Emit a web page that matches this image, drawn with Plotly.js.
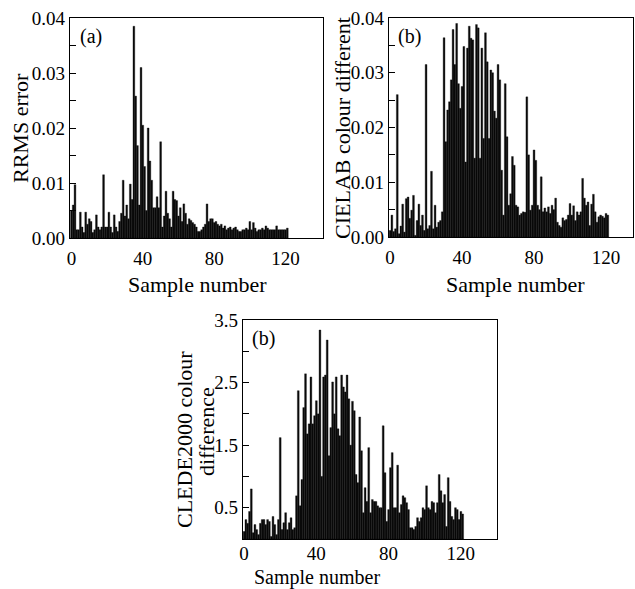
<!DOCTYPE html>
<html>
<head>
<meta charset="utf-8">
<script src="https://cdn.plot.ly/plotly-3.0.1.min.js"></script>
<style>html,body{margin:0;padding:0;background:#fff;}#chart{width:635px;height:589px;}</style>
</head>
<body>
<div id="chart"></div>
<script>
// ---- data ----
const sampleNumber = Array.from({length: 122}, (_, i) => i);

const rrmsError = [
 0.005,0.006,0.0097,0.0015,0.0015,0.0047,0.002,0.001,0.0047,0.0025,
 0.0035,0.003,0.001,0.0015,0.0042,0.002,0.0015,0.002,0.0115,0.002,
 0.002,0.0047,0.002,0.001,0.0042,0.002,0.0012,0.003,0.0045,0.0105,
 0.004,0.006,0.0035,0.0098,0.007,0.0385,0.0258,0.0168,0.006,0.031,
 0.0205,0.013,0.005,0.020,0.014,0.0105,0.0055,0.0055,0.0075,0.0055,
 0.0175,0.002,0.004,0.0085,0.0045,0.0035,0.002,0.0085,0.007,0.0068,
 0.004,0.0055,0.003,0.0062,0.0045,0.0025,0.0035,0.0032,0.0028,0.0025,
 0.002,0.0012,0.0012,0.0015,0.002,0.0025,0.0062,0.003,0.0035,0.0035,
 0.0028,0.003,0.0025,0.0022,0.0025,0.0018,0.0022,0.0015,0.0018,0.002,
 0.0015,0.0018,0.002,0.0015,0.0012,0.0012,0.0015,0.0015,0.0018,0.0015,
 0.003,0.0015,0.0028,0.0018,0.0012,0.0015,0.0015,0.0018,0.0015,0.0022,
 0.0018,0.0015,0.0015,0.0015,0.0015,0.0022,0.0015,0.0015,0.0015,0.0015,
 0.0015,0.0018
];

const cielabDifference = [
 0.0012,0.004,0.001,0.0015,0.026,0.0006,0.002,0.006,0.0009,0.007,
 0.0073,0.0034,0.0049,0.0076,0.0003,0.003,0.006,0.0021,0.004,0.0012,
 0.0315,0.0015,0.0021,0.012,0.0015,0.0058,0.0018,0.0027,0.003,0.0046,
 0.0364,0.0174,0.0232,0.0247,0.0287,0.0379,0.0315,0.039,0.028,0.0235,
 0.0275,0.0348,0.0137,0.0345,0.0385,0.0363,0.036,0.0144,0.0388,0.0382,
 0.0144,0.0345,0.018,0.0373,0.032,0.018,0.0305,0.03,0.023,0.0217,
 0.0315,0.0287,0.0122,0.004,0.028,0.0183,0.0058,0.0079,0.0147,0.0131,
 0.0058,0.0055,0.004,0.0043,0.0046,0.0045,0.0256,0.015,0.0049,0.0058,
 0.0159,0.014,0.0058,0.005,0.011,0.0046,0.0053,0.0046,0.0055,0.0043,
 0.0058,0.005,0.0071,0.0027,0.0021,0.0018,0.0035,0.003,0.0032,0.004,
 0.0061,0.004,0.0057,0.003,0.0046,0.004,0.0046,0.0107,0.0071,0.0058,
 0.0064,0.0021,0.006,0.0078,0.0046,0.0027,0.0037,0.004,0.0038,0.0035,
 0.0043,0.004
];

const ciede2000Difference = [
 0.12,0.31,0.25,0.44,0.8,0.1,0.23,0.15,0.07,0.25,
 0.31,0.31,0.23,0.31,0.28,0.04,0.36,0.23,0.07,0.31,
 1.62,0.15,0.26,0.42,0.15,0.26,0.34,0.15,0.18,0.69,
 2.37,0.53,0.95,2.1,2.64,1.68,1.84,2.59,1.84,1.97,
 2.21,2.0,3.34,1.0,2.59,2.62,3.18,1.33,1.78,2.51,
 2.0,2.59,1.76,1.65,2.62,2.43,2.35,2.62,2.24,1.5,
 2.2,2.05,1.03,0.9,1.95,1.41,0.42,0.82,0.6,1.46,
 0.42,0.63,0.6,0.6,0.53,0.5,0.5,1.81,1.06,0.28,
 0.47,1.14,1.38,0.5,0.5,1.18,0.42,0.55,0.69,0.66,
 0.58,0.47,0.18,0.18,0.15,0.2,0.34,0.28,0.34,0.5,
 0.47,0.85,0.5,0.47,0.6,0.58,0.42,0.58,1.03,0.77,
 0.58,0.71,0.2,0.98,0.6,0.36,0.31,0.5,0.47,0.31,
 0.44,0.4
];

const xTickVals = [0, 40, 80, 120];
const xTickText = ['0', '40', '80', '120'];
const yTickValsSmall = [0, 0.005, 0.01, 0.015, 0.02, 0.025, 0.03, 0.035, 0.04];
const yTickTextSmall = ['0.00', '', '0.01', '', '0.02', '', '0.03', '', '0.04'];
const yTickValsDE = [0.5, 1, 1.5, 2, 2.5, 3, 3.5];
const yTickTextDE = ['0.5', '', '1.5', '', '2.5', '', '3.5'];

const xTitle = 'Sample number';
const yTitleA = 'RRMS error';
const yTitleB = 'CIELAB colour different';
const yTitleC1 = 'CLEDE2000 colour';
const yTitleC2 = 'difference';
const panelLabels = ['(a)', '(b)', '(b)'];

// ---- layout ----
const W = 635, H = 589;
const FONT = 'Liberation Serif, Times New Roman, serif';
const xd = (a, b) => [a / W, b / W];
const yd = (top, bottom) => [1 - bottom / H, 1 - top / H];
const px = v => v / W;
const py = v => 1 - v / H;

const barStyle = {color: '#0a0a0a', line: {width: 0.35, color: '#0a0a0a'}};
const traces = [
  {type: 'bar', x: sampleNumber, y: rrmsError, xaxis: 'x', yaxis: 'y', marker: barStyle, hoverinfo: 'x+y'},
  {type: 'bar', x: sampleNumber, y: cielabDifference, xaxis: 'x2', yaxis: 'y2', marker: barStyle, hoverinfo: 'x+y'},
  {type: 'bar', x: sampleNumber, y: ciede2000Difference, xaxis: 'x3', yaxis: 'y3', marker: barStyle, hoverinfo: 'x+y'}
];

function xAxis(domain, anchor, range, standoff) {
  return {
    domain: domain, anchor: anchor, range: range,
    tickvals: xTickVals, ticktext: xTickText, ticks: '', ticklabelstandoff: standoff,
    showline: true, linecolor: '#000', linewidth: 1.3, mirror: true,
    showgrid: false, zeroline: false,
    tickfont: {family: FONT, size: 19, color: '#000'},
    automargin: false
  };
}
function yAxis(domain, anchor, range, vals, text) {
  return {
    domain: domain, anchor: anchor, range: range,
    tickvals: vals, ticktext: text, ticks: 'inside', ticklen: 6, tickwidth: 1, tickcolor: '#000',
    showline: true, linecolor: '#000', linewidth: 1.3, mirror: true,
    showgrid: false, zeroline: false,
    tickfont: {family: FONT, size: 19, color: '#000'},
    automargin: false
  };
}

function label(text, x, y, angle, size) {
  return {text: text, xref: 'paper', yref: 'paper', x: px(x), y: py(y), xanchor: 'center', yanchor: 'middle',
          textangle: angle || 0, showarrow: false, borderpad: 0,
          font: {family: FONT, size: size || 22, color: '#000'}};
}
function panel(text, ax, ay, x, y) {
  return {text: text, xref: ax + ' domain', yref: ay + ' domain', x: x, y: y, xanchor: 'left', yanchor: 'top',
          showarrow: false, font: {family: FONT, size: 20, color: '#000'}};
}

const layout = {
  width: W, height: H,
  margin: {l: 0, r: 0, t: 0, b: 0},
  paper_bgcolor: '#fff', plot_bgcolor: '#fff',
  showlegend: false, bargap: 0,
  font: {family: FONT, color: '#000'},
  xaxis: xAxis(xd(70, 323), 'y', [-0.8, 141], 3),
  yaxis: yAxis(yd(18, 238), 'x', [0, 0.04], yTickValsSmall, yTickTextSmall),
  xaxis2: xAxis(xd(389, 633), 'y2', [-0.6, 135], 3),
  yaxis2: yAxis(yd(18, 237), 'x2', [0, 0.04], yTickValsSmall, yTickTextSmall),
  xaxis3: xAxis(xd(243, 497), 'y3', [-0.6, 140], -3),
  yaxis3: yAxis(yd(320, 539), 'x3', [0, 3.5], yTickValsDE, yTickTextDE),
  annotations: [
    panel(panelLabels[0], 'x', 'y', 0.03, 0.975),
    panel(panelLabels[1], 'x2', 'y2', 0.028, 0.975),
    panel(panelLabels[2], 'x3', 'y3', 0.028, 0.975),
    label(xTitle, 197, 284),
    label(xTitle, 515, 284),
    label(xTitle, 317, 577, 0, 20),
    label(yTitleA, 20, 128, -90),
    label(yTitleB, 342, 128, -90),
    label(yTitleC1, 184, 440, -90),
    label(yTitleC2, 206, 432, -90)
  ]
};

Plotly.newPlot('chart', traces, layout, {staticPlot: true, displayModeBar: false});
</script>
</body>
</html>
